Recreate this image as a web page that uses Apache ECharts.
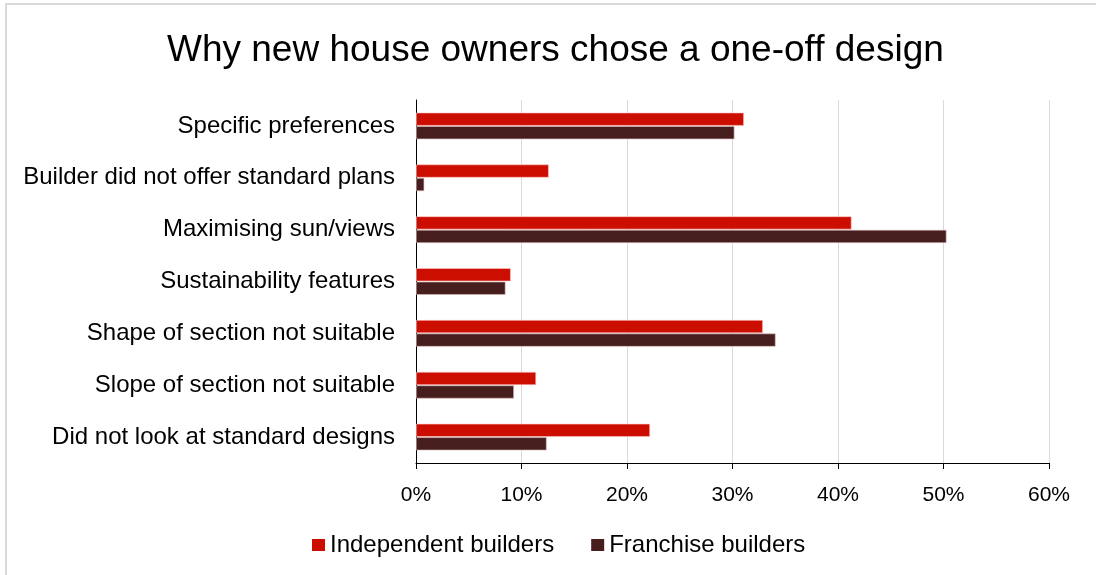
<!DOCTYPE html>
<html>
<head>
<meta charset="utf-8">
<script src="https://cdn.jsdelivr.net/npm/echarts@6/dist/echarts.min.js"></script>
<style>
  html, body { margin: 0; padding: 0; background: #ffffff; }
  #chart { width: 1096px; height: 575px; }
</style>
</head>
<body>
<div id="chart"></div>
<script>
// Reasons given for choosing a one-off house design (% of respondents)
const categories = [
  'Specific preferences',
  'Builder did not offer standard plans',
  'Maximising sun/views',
  'Sustainability features',
  'Shape of section not suitable',
  'Slope of section not suitable',
  'Did not look at standard designs'
];
const independentBuilders = [31.1, 12.6, 41.3, 9.0, 32.9, 11.4, 22.2];
const franchiseBuilders   = [30.2, 0.8, 50.3, 8.5, 34.1, 9.3, 12.4];
const seriesNames = ['Independent builders', 'Franchise builders'];
const valueTicks = { min: 0, max: 60, interval: 10 };

const FONT = '"Liberation Sans", Arial, sans-serif';

const chart = echarts.init(document.getElementById('chart'), null, { renderer: 'canvas' });

chart.setOption({
  animation: false,
  backgroundColor: '#ffffff',
  textStyle: { fontFamily: FONT, color: '#000000' },
  graphic: [{
    type: 'rect',
    shape: { x: 6, y: 4, width: 1200, height: 700 },
    style: { fill: 'none', stroke: '#d9d9d9', lineWidth: 2 },
    silent: true,
    z: -10
  }],
  title: {
    text: 'Why new house owners chose a one-off design',
    left: 162,
    top: 27,
    textStyle: { fontFamily: FONT, fontSize: 37, fontWeight: 'normal', color: '#000000' }
  },
  legend: {
    data: seriesNames,
    left: 307,
    top: 528,
    itemWidth: 13,
    itemHeight: 12,
    itemGap: 37,
    icon: 'rect',
    itemStyle: { borderWidth: 0 },
    textStyle: { fontFamily: FONT, fontSize: 24, color: '#000000' }
  },
  grid: { left: 416, right: 47, top: 100, bottom: 112, containLabel: false },
  xAxis: {
    type: 'value',
    min: valueTicks.min,
    max: valueTicks.max,
    interval: valueTicks.interval,
    axisLine: { show: true, lineStyle: { color: '#000000', width: 1 } },
    axisTick: { show: true, length: 6, lineStyle: { color: '#000000' } },
    axisLabel: { formatter: '{value}%', fontFamily: FONT, fontSize: 21, color: '#000000', margin: 22 },
    splitLine: { show: true, lineStyle: { color: '#d9d9d9', width: 1 } }
  },
  yAxis: {
    type: 'category',
    data: categories,
    inverse: true,
    axisLine: { show: true, lineStyle: { color: '#000000', width: 1 } },
    axisTick: { show: false },
    axisLabel: { fontFamily: FONT, fontSize: 24, color: '#000000', margin: 21 },
    splitLine: { show: false }
  },
  series: [
    {
      name: seriesNames[0],
      type: 'bar',
      data: independentBuilders,
      barGap: '0%',
      barCategoryGap: '48%',
      itemStyle: { color: '#cc0e00', borderColor: 'rgba(255,200,200,0.6)', borderWidth: 1 }
    },
    {
      name: seriesNames[1],
      type: 'bar',
      data: franchiseBuilders,
      barGap: '0%',
      barCategoryGap: '48%',
      itemStyle: { color: '#461e1e', borderColor: 'rgba(220,190,190,0.6)', borderWidth: 1 }
    }
  ]
});
</script>
</body>
</html>
